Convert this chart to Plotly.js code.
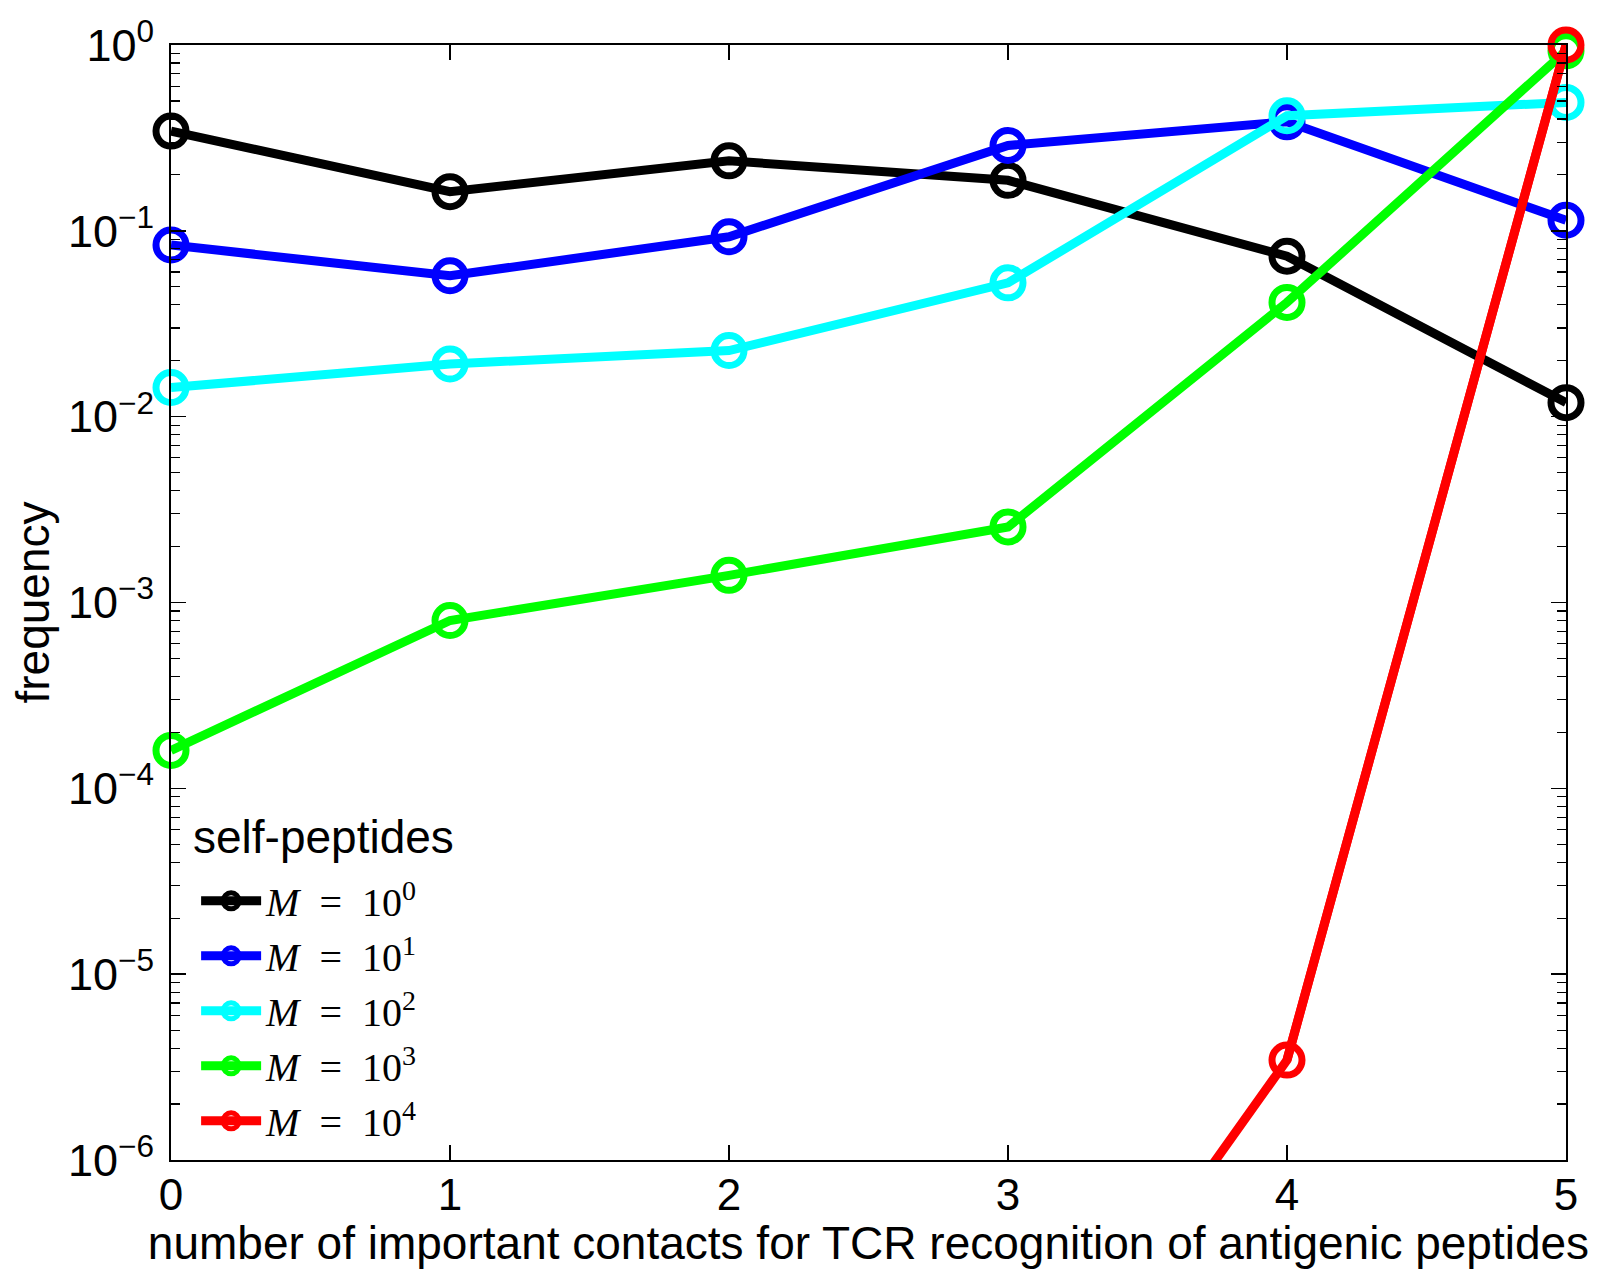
<!DOCTYPE html>
<html>
<head>
<meta charset="utf-8">
<script src="https://cdn.plot.ly/plotly-3.0.1.min.js"></script>
<style>html,body{margin:0;padding:0;background:#fff;}#chart{width:1608px;height:1269px;}</style>
</head>
<body>
<div id="chart"></div>
<script>
// x: number of important contacts
const contacts = [0, 1, 2, 3, 4, 5];
const contactsRed = [3, 4, 5];
// frequency per self-peptide count M
const freqM1 = [0.344, 0.1625, 0.238, 0.187, 0.073, 0.0119];
const freqM10 = [0.0839, 0.0573, 0.0929, 0.288, 0.386, 0.114];
const freqM100 = [0.01435, 0.0192, 0.0227, 0.0525, 0.416, 0.491];
const freqM1000 = [0.00016, 0.0008, 0.0014, 0.00255, 0.0412, 0.93];
const freqM10000 = [2.7e-8, 3.45e-6, 1.0];

const legendTitle = 'self-peptides';
const seriesNames = ['<i>M</i>  =  10<sup>0</sup>', '<i>M</i>  =  10<sup>1</sup>', '<i>M</i>  =  10<sup>2</sup>', '<i>M</i>  =  10<sup>3</sup>', '<i>M</i>  =  10<sup>4</sup>'];
const seriesColors = ['#000000', '#0000ff', '#00ffff', '#00ff00', '#ff0000'];
const seriesX = [contacts, contacts, contacts, contacts, contactsRed];
const seriesY = [freqM1, freqM10, freqM100, freqM1000, freqM10000];

const yTickVals = [1e-6, 1e-5, 1e-4, 1e-3, 1e-2, 1e-1, 1];
const yTickText = ['10<sup>−6</sup>', '10<sup>−5</sup>', '10<sup>−4</sup>', '10<sup>−3</sup>', '10<sup>−2</sup>', '10<sup>−1</sup>', '10<sup>0</sup>'];
const xTickVals = [0, 1, 2, 3, 4, 5];

const yMin = 1e-6;
const traces = [];
seriesY.forEach((ys, i) => {
  const xs = seriesX[i];
  const inRange = ys.every(v => v >= yMin);
  if (!inRange) {
    // line part that runs below the axis range: clipped to the plot area
    traces.push({
      x: xs, y: ys, type: 'scatter', mode: 'lines', showlegend: false, hoverinfo: 'skip',
      line: {color: seriesColors[i], width: 9}, cliponaxis: true
    });
  }
  const keep = ys.map(v => v >= yMin);
  traces.push({
    x: xs.filter((_, k) => keep[k]), y: ys.filter((_, k) => keep[k]),
    name: seriesNames[i], type: 'scatter', mode: 'lines+markers',
    line: {color: seriesColors[i], width: 9},
    marker: {symbol: 'circle-open', size: 30, color: seriesColors[i], line: {width: 7, color: seriesColors[i]}},
    cliponaxis: false
  });
});

const layout = {
  width: 1608, height: 1269,
  margin: {l: 171, r: 42, t: 45, b: 109},
  paper_bgcolor: '#fff', plot_bgcolor: '#fff',
  font: {family: 'Liberation Sans, Arial, sans-serif', color: '#000'},
  showlegend: true,
  legend: {
    x: 0.018, y: 0.006, xanchor: 'left', yanchor: 'bottom',
    bgcolor: 'rgba(255,255,255,0)', borderwidth: 0,
    font: {size: 40, family: 'Liberation Serif, DejaVu Serif, serif'},
    tracegroupgap: 0, itemwidth: 60
  },
  annotations: [{
    text: legendTitle, xref: 'paper', yref: 'paper', x: 0.014, y: 0.29,
    xanchor: 'left', yanchor: 'middle', showarrow: false,
    font: {size: 46, family: 'Liberation Sans, Arial, sans-serif', color: '#000'}
  }],
  xaxis: {
    range: [0, 5], tickvals: xTickVals, ticks: 'inside', ticklen: 15, tickwidth: 1.5, tickcolor: '#000',
    showline: true, linecolor: '#000', linewidth: 2, mirror: 'ticks', showgrid: false, zeroline: false,
    tickfont: {size: 44}, ticklabelstandoff: -5,
    title: {text: 'number of important contacts for TCR recognition of antigenic peptides', font: {size: 46}, standoff: 8}
  },
  yaxis: {
    type: 'log', range: [-6, 0], tickvals: yTickVals, ticktext: yTickText,
    ticks: 'inside', ticklen: 15, tickwidth: 1.5, tickcolor: '#000',
    minor: {dtick: 'D1', ticks: 'inside', ticklen: 9, tickwidth: 1.2, tickcolor: '#000', showgrid: false},
    showline: true, linecolor: '#000', linewidth: 2, mirror: 'ticks', showgrid: false, zeroline: false,
    tickfont: {size: 45}, ticklabelstandoff: 6,
    title: {text: 'frequency', font: {size: 46}, standoff: 4}
  }
};

Plotly.newPlot('chart', traces, layout, {displayModeBar: false, staticPlot: true});
</script>
</body>
</html>
